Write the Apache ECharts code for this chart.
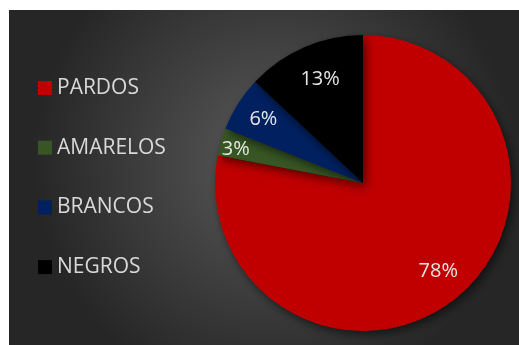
<!DOCTYPE html>
<html>
<head>
<meta charset="utf-8">
<script src="https://cdn.jsdelivr.net/npm/echarts@6/dist/echarts.min.js"></script>
<style>
  html, body { margin: 0; padding: 0; background: #ffffff; }
  #chart { width: 519px; height: 345px; }
</style>
</head>
<body>
<div id="chart"></div>
<script>
// dados
var categorias = ["PARDOS", "AMARELOS", "BRANCOS", "NEGROS"];
var valores = [78, 3, 6, 13];
var cores = ["#c00000", "#375623", "#002060", "#000000"];

var myChart = echarts.init(document.getElementById("chart"));

var dadosPizza = categorias.map(function (nome, i) {
  return { name: nome, value: valores[i], itemStyle: { color: cores[i] } };
});

// serie invisivel so para posicionar os rotulos mais pra fora
var ajustes = { AMARELOS: [-14, -1], NEGROS: [4, 5], PARDOS: [0, -3] };
var dadosRotulo = categorias.map(function (nome, i) {
  var item = { name: nome, value: valores[i] };
  if (ajustes[nome]) {
    item.label = { offset: ajustes[nome] };
  }
  return item;
});

var option = {
  backgroundColor: "#ffffff",
  animation: false,
  graphic: [
    {
      type: "rect",
      z: -10,
      shape: { x: 9, y: 10, width: 510, height: 335 },
      style: {
        fill: {
          type: "radial",
          x: 0.52,
          y: 0.45,
          r: 0.72,
          colorStops: [
            { offset: 0, color: "#5a5a5a" },
            { offset: 1, color: "#262626" },
          ],
        },
      },
    },
  ],
  legend: {
    orient: "vertical",
    left: 33,
    top: 69,
    itemWidth: 14,
    itemHeight: 14,
    itemGap: 31.7,
    icon: "rect",
    data: categorias,
    textStyle: {
      color: "#d9d9d9",
      fontSize: 21,
      fontFamily: "Open Sans",
      lineHeight: 28,
    },
  },
  series: [
    {
      name: "cor",
      type: "pie",
      center: [363, 183],
      radius: [0, 148],
      startAngle: 90,
      clockwise: true,
      silent: true,
      label: { show: false },
      labelLine: { show: false },
      itemStyle: {
        shadowBlur: 10,
        shadowOffsetX: 3,
        shadowOffsetY: 4,
        shadowColor: "rgba(0,0,0,0.55)",
      },
      data: dadosPizza,
    },
    {
      name: "rotulos",
      type: "pie",
      center: [363, 183],
      radius: [0, 230],
      startAngle: 90,
      clockwise: true,
      silent: true,
      itemStyle: { color: "rgba(0,0,0,0)" },
      label: {
        show: true,
        position: "inside",
        color: "#e6e6e6",
        fontSize: 20,
        fontFamily: "Open Sans",
        formatter: "{c}%",
      },
      labelLine: { show: false },
      data: dadosRotulo,
    },
  ],
};

myChart.setOption(option);
</script>
</body>
</html>
